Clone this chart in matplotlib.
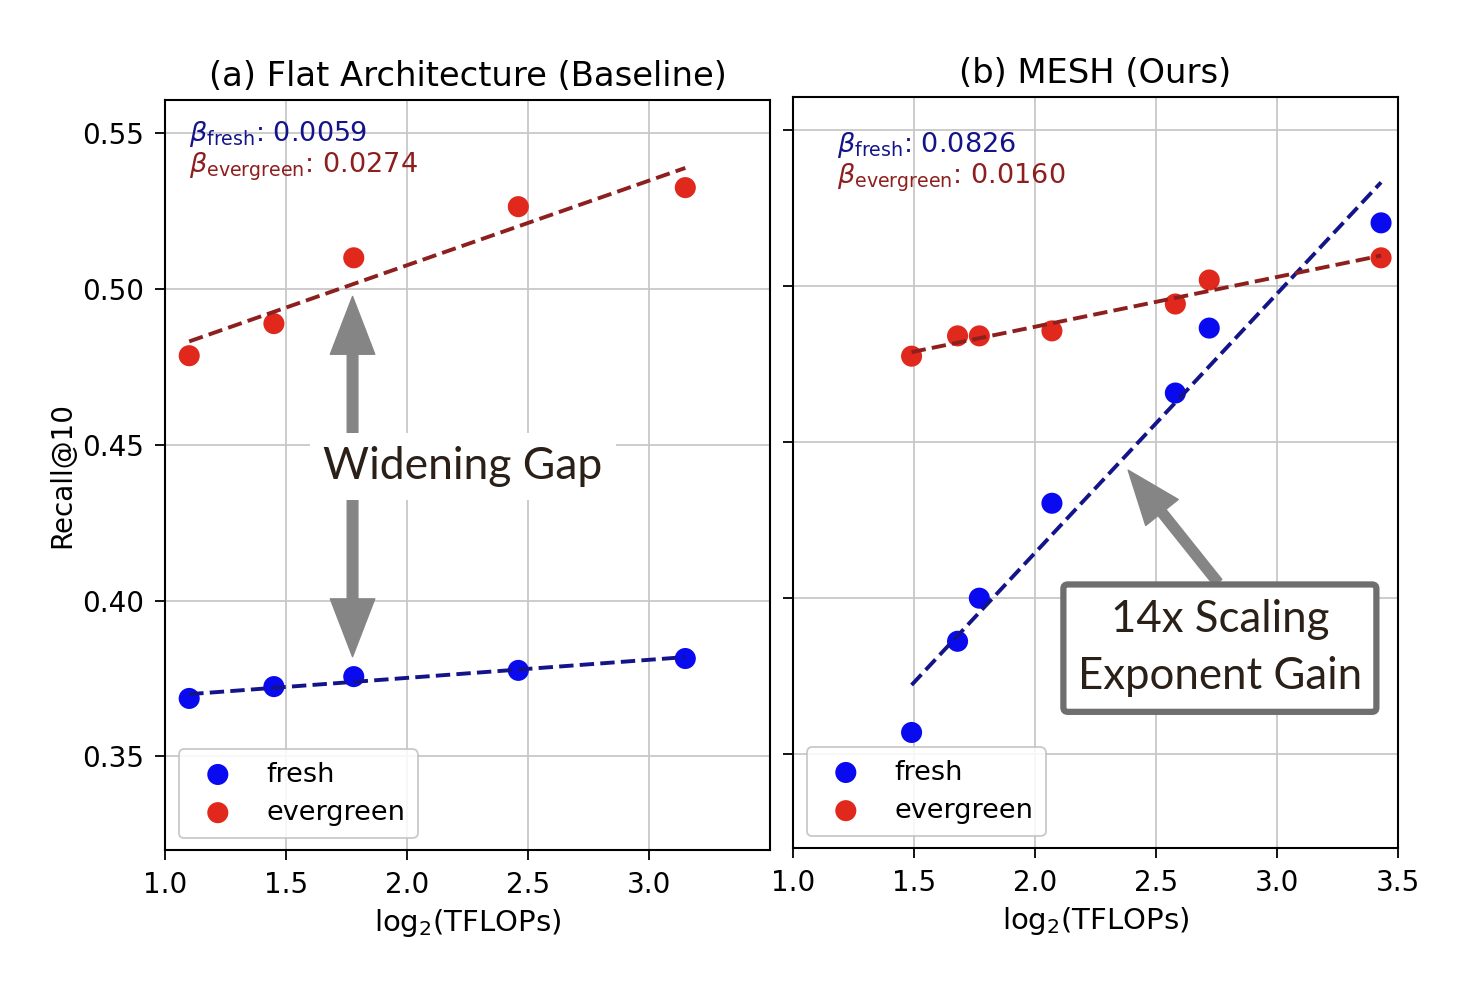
import numpy as np
import matplotlib
matplotlib.use("Agg")
import matplotlib.pyplot as plt

# ---- data ----
flat_x = [1.10, 1.45, 1.78, 2.46, 3.15]
flat_fresh = [0.3686, 0.3724, 0.3756, 0.3776, 0.3814]
flat_evergreen = [0.4785, 0.4888, 0.5099, 0.5263, 0.5324]

mesh_x = [1.49, 1.68, 1.77, 2.07, 2.58, 2.72, 3.43]
mesh_fresh = [0.3570, 0.3862, 0.4000, 0.4304, 0.4657, 0.4865, 0.5202]
mesh_evergreen = [0.4775, 0.4840, 0.4840, 0.4856, 0.4942, 0.5019, 0.5090]

beta_flat = {"fresh": "0.0059", "evergreen": "0.0274"}
beta_mesh = {"fresh": "0.0826", "evergreen": "0.0160"}

titles = ["(a) Flat Architecture (Baseline)", "(b) MESH (Ours)"]
xticks_left = [1.0, 1.5, 2.0, 2.5, 3.0]
xticks_right = [1.0, 1.5, 2.0, 2.5, 3.0, 3.5]
yticks = [0.35, 0.40, 0.45, 0.50, 0.55]

C_FRESH_PT = "#0a0af0"
C_EVER_PT = "#e0281c"
C_FRESH_LN = "#14148a"
C_EVER_LN = "#8e1f1f"
C_ANN = "#858585"
C_ANN_TXT = "#2a2018"

plt.rcParams["font.family"] = ["DejaVu Sans"]

fig = plt.figure(figsize=(14.58, 10.02), dpi=100)
ax1 = fig.add_axes([165/1458, 1-850/1002, 605/1458, 750/1002])
ax2 = fig.add_axes([793/1458, 1-848/1002, 605/1458, 751/1002], sharey=ax1)


def panel(ax, x, fresh, ever, beta, title, xticks, tx):
    x = np.asarray(x)
    ax.scatter(x, fresh, s=230, color=C_FRESH_PT, zorder=3, label="fresh", edgecolors="none")
    ax.scatter(x, ever, s=230, color=C_EVER_PT, zorder=3, label="evergreen", edgecolors="none")
    xs = np.array([x.min(), x.max()])
    pf = np.polyfit(x, fresh, 1)
    pe = np.polyfit(x, ever, 1)
    ax.plot(xs, np.polyval(pf, xs), "--", color=C_FRESH_LN, lw=2.8, zorder=4)
    ax.plot(xs, np.polyval(pe, xs), "--", color=C_EVER_LN, lw=2.8, zorder=4)
    ax.set_xlim(1.0, 3.5)
    ax.set_ylim(0.32, 0.5605)
    ax.set_xticks(xticks)
    ax.set_yticks(yticks)
    ax.grid(True, color="#c8c8c8", lw=1.3)
    ax.set_axisbelow(True)
    ax.tick_params(labelsize=20, length=7, width=1.3, pad=8)
    for s in ax.spines.values():
        s.set_linewidth(1.5)
    ax.set_title(title, fontsize=24.3, pad=10)
    ax.set_xlabel(r"log$_2$(TFLOPs)", fontsize=21, labelpad=6)
    ax.text(tx[0], tx[1], r"$\beta_{\mathrm{fresh}}$: " + beta["fresh"],
            transform=ax.transAxes, color=C_FRESH_LN, fontsize=19.5, va="center")
    ax.text(tx[0], tx[1] - 0.044, r"$\beta_{\mathrm{evergreen}}$: " + beta["evergreen"],
            transform=ax.transAxes, color=C_EVER_LN, fontsize=19.5, va="center")
    leg = ax.legend(loc="lower left", fontsize=19.5, borderpad=0.45, handletextpad=0.8,
                    labelspacing=0.45, markerscale=1.0,
                    bbox_to_anchor=(0.0, -0.002), framealpha=0.85, edgecolor="#c0c0c0")
    leg.get_frame().set_linewidth(1.3)


panel(ax1, flat_x, flat_fresh, flat_evergreen, beta_flat, titles[0], xticks_left, (0.04, 0.955))
panel(ax2, mesh_x, mesh_fresh, mesh_evergreen, beta_mesh, titles[1], xticks_right, (0.073, 0.936))
plt.setp(ax2.get_yticklabels(), visible=False)
ax1.set_ylabel("Recall@10", fontsize=20, labelpad=4)

# Widening gap annotation
arrow_style = "simple,head_length=1.3,head_width=1.0,tail_width=0.24"
ax1.annotate("", xy=(1.775, 0.4975), xytext=(1.775, 0.443),
             arrowprops=dict(arrowstyle=arrow_style, color=C_ANN, mutation_scale=32,
                             shrinkA=0, shrinkB=0), zorder=5)
ax1.annotate("", xy=(1.775, 0.382), xytext=(1.775, 0.443),
             arrowprops=dict(arrowstyle=arrow_style, color=C_ANN, mutation_scale=32,
                             shrinkA=0, shrinkB=0), zorder=5)
ax1.text(2.23, 0.443, "Widening Gap", fontsize=32, family=["Lato", "DejaVu Sans"],
         color=C_ANN_TXT, ha="center", va="center", zorder=6,
         bbox=dict(boxstyle="square,pad=0.3", facecolor="white", edgecolor="none"))

# MESH annotation
ax2.annotate("", xy=(2.385, 0.441), xytext=(2.756, 0.405),
             arrowprops=dict(arrowstyle=arrow_style, color=C_ANN, mutation_scale=30,
                             shrinkA=0, shrinkB=0), zorder=5)
ax2.text(2.764, 0.3840, "14x Scaling\nExponent Gain", fontsize=31.5,
         family=["Lato", "DejaVu Sans"], color=C_ANN_TXT, ha="center", va="center",
         linespacing=1.5, zorder=6,
         bbox=dict(boxstyle="round,pad=0.33,rounding_size=0.1", facecolor="white",
                   edgecolor="#6e6e6e", linewidth=4.5))

fig.savefig("out.png", dpi=100, facecolor="white")
